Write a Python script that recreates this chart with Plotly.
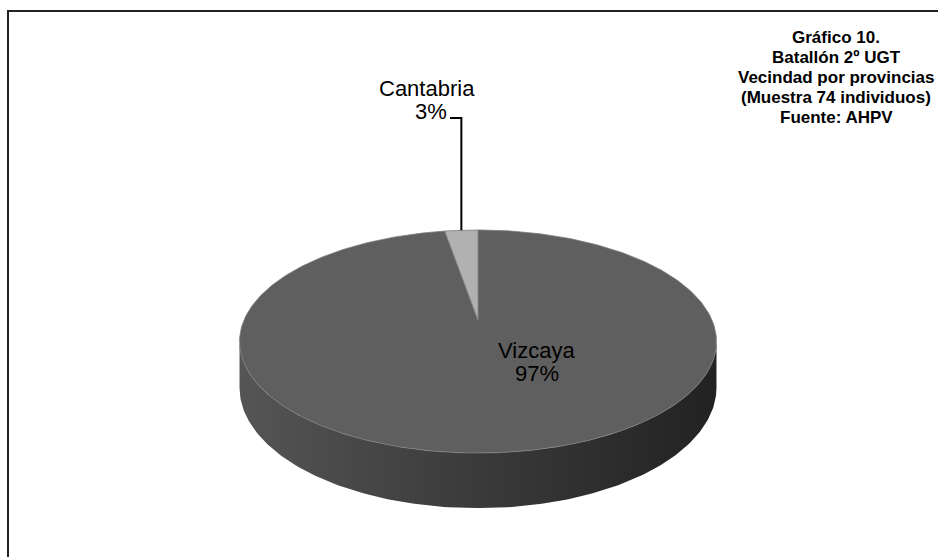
import numpy as np
import plotly.graph_objects as go

# muestra de 74 individuos
provincias = ["Vizcaya", "Cantabria"]
individuos = [72, 2]
etiquetas = ["97%", "3%"]
colores_cara = ["#5f5f5f", "#b1b1b1"]

titulo = ["Gráfico 10.", "Batallón 2º UGT", "Vecindad por provincias",
          "(Muestra 74 individuos)", "Fuente: AHPV"]

W, H = 938, 557
# pie "3D" geometry (pixels, perspective tilt)
CX, CY = 478, 320
R, K, P, DEPTH = 234, 107.4, 0.193, 44.4
FONT = "Arial, Liberation Sans, sans-serif"


def proj(theta, z=0.0):
    # theta: clockwise angle from 12 o'clock (back of the pie)
    u, v = np.sin(theta), np.cos(theta)
    w = 1 + P * v
    return CX + R * u / w, CY - K * v / w + z / w


fig = go.Figure()

# side wall (front half of the cylinder)
t_sil = np.arccos(-P)
ts = np.linspace(t_sil, 2 * np.pi - t_sil, 200)
xt, yt = proj(ts)
xb, yb = proj(ts[::-1], DEPTH)
fig.add_trace(go.Scatter(
    x=np.concatenate([xt, xb, xt[:1]]), y=np.concatenate([yt, yb, yt[:1]]),
    mode="lines", line=dict(width=0), fill="toself",
    fillgradient=dict(type="horizontal",
                      colorscale=[[0, "#555555"], [0.5, "#3a3a3a"], [1, "#222222"]]),
    hoverinfo="skip", showlegend=False))

# top faces of the slices
total = sum(individuos)
start = 0.0
mids = []
for nombre, n, col in zip(provincias, individuos, colores_cara):
    span = 2 * np.pi * n / total
    ang = np.linspace(start, start + span, max(int(span * 60), 4))
    ax_, ay_ = proj(ang)
    fig.add_trace(go.Scatter(
        x=np.concatenate([[CX], ax_, [CX]]),
        y=np.concatenate([[CY], ay_, [CY]]),
        mode="lines", line=dict(width=0.8, color="#7d7d7d"), fill="toself",
        fillcolor=col, hoverinfo="skip", showlegend=False, name=nombre))
    mids.append(start + span / 2)
    start += span

# leader line for Cantabria
lx, ly = proj(mids[1])
fig.add_trace(go.Scatter(
    x=[450, lx, lx], y=[118, 118, ly], mode="lines",
    line=dict(color="black", width=2), hoverinfo="skip", showlegend=False))


def label(x, y, txt, size, bold=False):
    fig.add_annotation(x=x, y=y, text=f"<b>{txt}</b>" if bold else txt,
                       showarrow=False,
                       font=dict(family=FONT, size=size, color="black"))


label(536, 350, provincias[0], 22)
label(537, 373, etiquetas[0], 22)
label(427, 88, provincias[1], 22)
label(431, 111, etiquetas[1], 22)
for i, linea in enumerate(titulo):
    label(836, 37 + 20 * i, linea, 17, bold=True)

# chart frame
fig.add_shape(type="rect", x0=8, y0=11, x1=W + 10, y1=H + 10,
              line=dict(color="#222222", width=2))

fig.update_layout(
    width=W, height=H, margin=dict(l=0, r=0, t=0, b=0),
    paper_bgcolor="white", plot_bgcolor="white",
    xaxis=dict(range=[0, W], visible=False, fixedrange=True),
    yaxis=dict(range=[H, 0], visible=False, fixedrange=True),
)

fig.write_html("out.html", config={"displayModeBar": False},
               post_script="document.body.style.margin='0';")
